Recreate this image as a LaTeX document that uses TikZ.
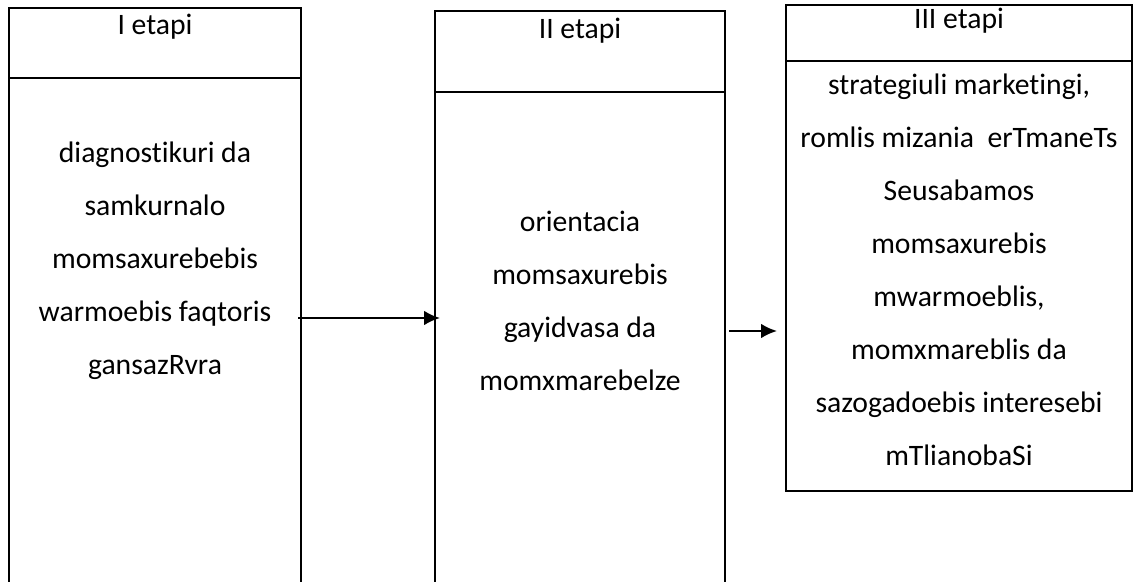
\documentclass[tikz,border=0pt]{standalone}
\usepackage{fontspec}
\setmainfont{Carlito}[Ligatures={NoCommon,NoContextual}]
\usetikzlibrary{arrows.meta}

\begin{document}
\begin{tikzpicture}[x=0.3774pt, y=-0.3774pt,
		frame/.style={draw=black, line width=1pt},
		title/.style={anchor=base, inner sep=0pt, font=\fontsize{11.2}{20}\selectfont},
		body/.style={align=center, inner sep=0pt, font=\fontsize{11.2}{20}\selectfont},
		link/.style={draw=black, line width=0.8pt, -{Latex[length=6pt,width=5.5pt]}}]
		\useasboundingbox (0,0) rectangle (1136,582);
		\clip (0,0) rectangle (1136,582);

		% the three stages
		\draw[frame] (9,8) rectangle (301,600) (9,78) -- (301,78);
		\draw[frame] (435,11) rectangle (725,600) (435,92) -- (725,92);
		\draw[frame] (786,5) rectangle (1132,491) (786,61) -- (1132,61);

		\node[title] (t1) at (155,35) {I etapi};
		\node[title] (t2) at (580,39) {II etapi};
		\node[title] (t3) at (959,29) {III etapi};

		\node[body] (b1) at (155,261) {diagnostikuri da\\samkurnalo\\momsaxurebebis\\warmoebis faqtoris\\gansazRvra};
		\node[body] (b2) at (580,301) {orientacia\\momsaxurebis\\gayidvasa da\\momxmarebelze};
		\node[body] (b3) at (959,270) {strategiuli marketingi,\\romlis mizania~ erTmaneTs\\Seusabamos\\momsaxurebis\\mwarmoeblis,\\momxmareblis da\\sazogadoebis interesebi\\mTlianobaSi};

		% arrows between stages
		\coordinate (a1) at (298,318);
		\coordinate (e1) at (440,318);
		\coordinate (a2) at (729,331);
		\coordinate (e2) at (777,331);
		\draw[link] (a1) -- (e1);
		\draw[link] (a2) -- (e2);
	\end{tikzpicture}
\end{document}
